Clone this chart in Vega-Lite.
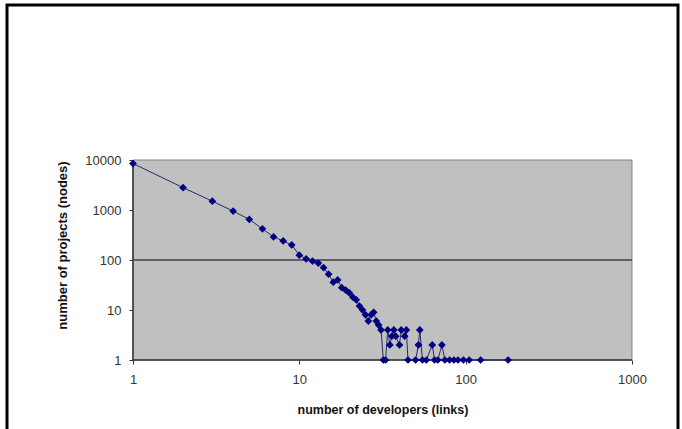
{
  "$schema": "https://vega.github.io/schema/vega-lite/v6.json",
  "width": 671,
  "height": 426,
  "padding": {"left": 7, "top": 5, "right": 4, "bottom": 0},
  "autosize": {"type": "none"},
  "background": "white",
  "config": {
    "view": {"stroke": "black", "strokeWidth": 3, "fill": "white"},
    "font": "Liberation Sans"
  },
  "datasets": {
    "pts": [
      {"developers": 1, "projects": 8500},
      {"developers": 2, "projects": 2800},
      {"developers": 3, "projects": 1500},
      {"developers": 4, "projects": 950},
      {"developers": 5, "projects": 650},
      {"developers": 6, "projects": 420},
      {"developers": 7, "projects": 290},
      {"developers": 8, "projects": 240},
      {"developers": 9, "projects": 200},
      {"developers": 10, "projects": 125},
      {"developers": 11, "projects": 105},
      {"developers": 12, "projects": 95},
      {"developers": 13, "projects": 87},
      {"developers": 14, "projects": 70},
      {"developers": 15, "projects": 52},
      {"developers": 16, "projects": 36},
      {"developers": 17, "projects": 40},
      {"developers": 18, "projects": 28},
      {"developers": 19, "projects": 25},
      {"developers": 20, "projects": 22},
      {"developers": 21, "projects": 18},
      {"developers": 22, "projects": 16},
      {"developers": 23, "projects": 12},
      {"developers": 24, "projects": 10},
      {"developers": 25, "projects": 8},
      {"developers": 26, "projects": 6},
      {"developers": 27, "projects": 8},
      {"developers": 28, "projects": 9},
      {"developers": 29, "projects": 6},
      {"developers": 30, "projects": 5},
      {"developers": 31, "projects": 4},
      {"developers": 32, "projects": 1},
      {"developers": 33, "projects": 1},
      {"developers": 34, "projects": 4},
      {"developers": 35, "projects": 2},
      {"developers": 36, "projects": 3},
      {"developers": 37, "projects": 4},
      {"developers": 38, "projects": 3},
      {"developers": 40, "projects": 2},
      {"developers": 41, "projects": 4},
      {"developers": 43, "projects": 3},
      {"developers": 44, "projects": 4},
      {"developers": 45, "projects": 1},
      {"developers": 50, "projects": 1},
      {"developers": 52, "projects": 2},
      {"developers": 53, "projects": 4},
      {"developers": 55, "projects": 1},
      {"developers": 58, "projects": 1},
      {"developers": 63, "projects": 2},
      {"developers": 65, "projects": 1},
      {"developers": 68, "projects": 1},
      {"developers": 72, "projects": 2},
      {"developers": 75, "projects": 1},
      {"developers": 80, "projects": 1},
      {"developers": 85, "projects": 1},
      {"developers": 90, "projects": 1},
      {"developers": 97, "projects": 1},
      {"developers": 105, "projects": 1},
      {"developers": 123, "projects": 1},
      {"developers": 180, "projects": 1}
    ],
    "plotarea": [{"developers": 1, "developers_end": 1000, "projects": 1, "projects_end": 10000}],
    "grid": [{"developers": 1, "developers_end": 1000, "projects": 100}],
    "xaxisline": [{"developers": 1, "developers_end": 1000, "projects": 1}],
    "yaxisline": [{"developers": 1, "projects": 1, "projects_end": 10000}]
  },
  "encoding": {
    "x": {
      "field": "developers", "type": "quantitative",
      "scale": {"type": "log", "domain": [0.17478, 1890.9], "nice": false, "zero": false},
      "axis": {
        "values": [1, 10, 100, 1000],
        "format": "d",
        "offset": -71,
        "domain": false,
        "grid": false,
        "tickSize": 4,
        "tickColor": "#333333",
        "labelPadding": 9,
        "labelFontSize": 13,
        "labelColor": "#333333",
        "labelFont": "Liberation Sans",
        "title": "number of developers (links)",
        "titleFont": "Liberation Sans",
        "titleFontSize": 12.5,
        "titleFontWeight": "bold",
        "titleColor": "#111111",
        "titleX": 375.5,
        "titleY": 43,
        "titleAlign": "center",
        "titleBaseline": "top"
      }
    },
    "y": {
      "field": "projects", "type": "quantitative",
      "scale": {"type": "log", "domain": [0.038019, 12589254], "nice": false, "zero": false},
      "axis": {
        "values": [1, 10, 100, 1000, 10000],
        "format": "d",
        "offset": -126,
        "domain": false,
        "grid": false,
        "tickSize": 4,
        "tickColor": "#333333",
        "labelPadding": 8,
        "labelFontSize": 13,
        "labelColor": "#333333",
        "labelFont": "Liberation Sans",
        "title": "number of projects (nodes)",
        "titleFont": "Liberation Sans",
        "titleFontSize": 13,
        "titleFontWeight": "bold",
        "titleColor": "#111111",
        "titleY": 240,
        "titlePadding": 15
      }
    }
  },
  "layer": [
    {
      "data": {"name": "plotarea"},
      "mark": {"type": "rect", "fill": "#c0c0c0", "stroke": "#808080", "strokeWidth": 1},
      "encoding": {
        "x2": {"field": "developers_end"},
        "y2": {"field": "projects_end"}
      }
    },
    {
      "data": {"name": "grid"},
      "mark": {"type": "rule", "color": "black", "strokeWidth": 1},
      "encoding": {
        "x2": {"field": "developers_end"}
      }
    },
    {
      "data": {"name": "xaxisline"},
      "mark": {"type": "rule", "color": "#333333", "strokeWidth": 1.5},
      "encoding": {
        "x2": {"field": "developers_end"}
      }
    },
    {
      "data": {"name": "yaxisline"},
      "mark": {"type": "rule", "color": "#333333", "strokeWidth": 1.5},
      "encoding": {
        "y2": {"field": "projects_end"}
      }
    },
    {
      "data": {"name": "pts"},
      "mark": {
        "type": "line",
        "color": "#2a2a6a",
        "strokeWidth": 1,
        "point": {"shape": "diamond", "filled": true, "size": 60, "color": "#000080"}
      },
      "encoding": {}
    }
  ]
}
